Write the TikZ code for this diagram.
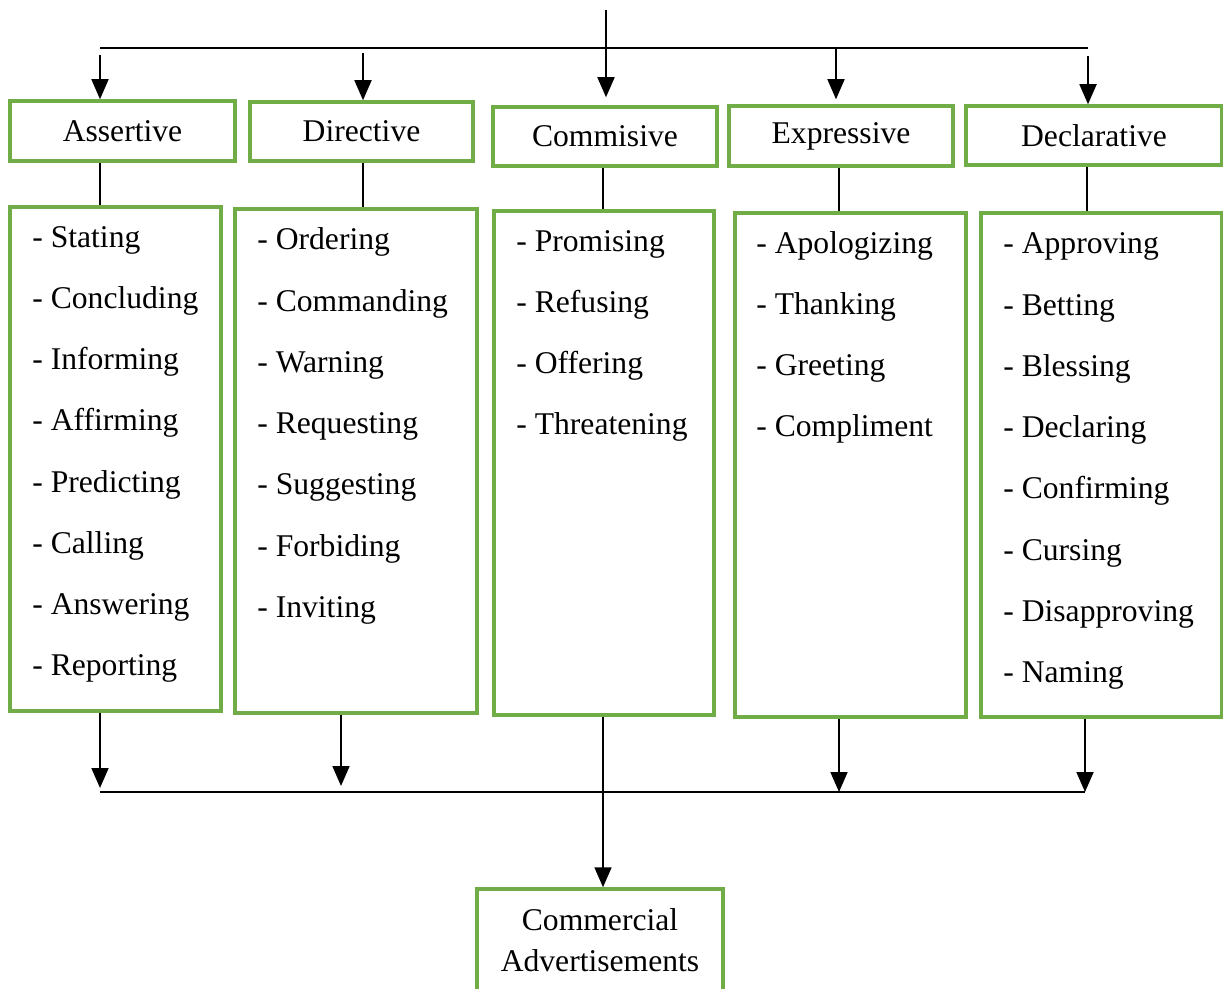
\documentclass[tikz,border=0pt]{standalone}
\usepackage{fontspec}
\setmainfont{Liberation Serif}
\usetikzlibrary{arrows.meta}
\definecolor{boxgreen}{RGB}{112,173,71}
\tikzset{
  head/.style={draw=boxgreen, line width=2pt, inner sep=0pt, font=\fontsize{18}{23}\selectfont},
  listbox/.style={draw=boxgreen, line width=2pt, inner sep=0pt},
  item/.style={anchor=base west, inner sep=0pt, font=\fontsize{18}{22}\selectfont},
  conn/.style={line width=1pt},
  arr/.style={conn, -{Triangle[length=0.4cm,width=0.34cm]}},
  bus/.style={line width=1.4pt}
}

\begin{document}
\begin{tikzpicture}[x=0.02cm, y=-0.02cm]
    \useasboundingbox (0,0) rectangle (1223,989);
    % the five kinds of speech act
    \node[head, minimum width=4.5cm,  minimum height=1.2cm]  (hAss) at (122.5,131)  {Assertive};
    \node[head, minimum width=4.46cm, minimum height=1.18cm] (hDir) at (361.5,131.5) {Directive};
    \node[head, minimum width=4.48cm, minimum height=1.18cm] (hCom) at (605,136.5)  {Commisive};
    \node[head, minimum width=4.48cm, minimum height=1.2cm]  (hExp) at (841,136)    {Expressive};
    \node[head, minimum width=5.12cm, minimum height=1.18cm] (hDec) at (1094,135.5) {Declarative};
    % boxes with the lists
    \node[listbox, minimum width=4.22cm, minimum height=10.08cm] (lAss) at (115.5,459) {};
    \node[listbox, minimum width=4.84cm, minimum height=10.08cm] (lDir) at (356,461)   {};
    \node[listbox, minimum width=4.4cm,  minimum height=10.08cm] (lCom) at (604,463)   {};
    \node[listbox, minimum width=4.62cm, minimum height=10.08cm] (lExp) at (850.5,465) {};
    \node[listbox, minimum width=4.82cm, minimum height=10.08cm] (lDec) at (1101.5,465) {};
    % list items
    \foreach \t [count=\i from 0] in {Stating,Concluding,Informing,Affirming,Predicting,Calling,Answering,Reporting}
      \node[item] (iAss\i) at (32,248+61*\i) {- \t};
    \foreach \t [count=\i from 0] in {Ordering,Commanding,Warning,Requesting,Suggesting,Forbiding,Inviting}
      \node[item] (iDir\i) at (257,250+61.2*\i) {- \t};
    \foreach \t [count=\i from 0] in {Promising,Refusing,Offering,Threatening}
      \node[item] (iCom\i) at (516,252+61*\i) {- \t};
    \foreach \t [count=\i from 0] in {Apologizing,Thanking,Greeting,Compliment}
      \node[item] (iExp\i) at (756,254+61*\i) {- \t};
    \foreach \t [count=\i from 0] in {Approving,Betting,Blessing,Declaring,Confirming,Cursing,Disapproving,Naming}
      \node[item] (iDec\i) at (1003,254+61.2*\i) {- \t};
    % result box
    \node[head, minimum width=4.92cm, minimum height=2.04cm, align=center] (cAd) at (600,940) {Commercial\\Advertisements};

    % top bus
    \coordinate (top) at (606,10);
    \coordinate (busL) at (100,48);
    \coordinate (busR) at (1088,48);
    \coordinate (tA) at (100,55);
    \coordinate (tD) at (363,53);
    \coordinate (tE) at (836,48);
    \coordinate (tX) at (1088,56);
    \draw[bus] (busL) -- (busR);
    \draw[arr] (tA) -- (hAss.north -| tA);
    \draw[arr] (tD) -- (hDir.north -| tD);
    \draw[arr, shorten >=0.16cm] (top) -- (hCom.north -| top);
    \draw[arr, shorten >=0.1cm] (tE) -- (hExp.north -| tE);
    \draw[arr] (tX) -- (hDec.north -| tX);

    % from heading to list
    \coordinate (dA) at (100,0);
    \coordinate (dD) at (363,0);
    \coordinate (dC) at (603,0);
    \coordinate (dE) at (839,0);
    \coordinate (dX) at (1087,0);
    \draw[conn] (hAss.south -| dA) -- (lAss.north -| dA);
    \draw[conn] (hDir.south -| dD) -- (lDir.north -| dD);
    \draw[conn] (hCom.south -| dC) -- (lCom.north -| dC);
    \draw[conn] (hExp.south -| dE) -- (lExp.north -| dE);
    \draw[conn] (hDec.south -| dX) -- (lDec.north -| dX);

    % bottom bus
    \coordinate (bA) at (100,788);
    \coordinate (bD) at (341,786);
    \coordinate (bE) at (839,792);
    \coordinate (bX) at (1085,792);
    \draw[bus] (100,792) -- (1085,792);
    \draw[arr] (lAss.south -| bA) -- (bA);
    \draw[arr] (lDir.south -| bD) -- (bD);
    \draw[arr] (lExp.south -| bE) -- (bE);
    \draw[arr] (lDec.south -| bX) -- (bX);
    \draw[arr] (lCom.south -| dC) -- (cAd.north -| dC);
\end{tikzpicture}
\end{document}
